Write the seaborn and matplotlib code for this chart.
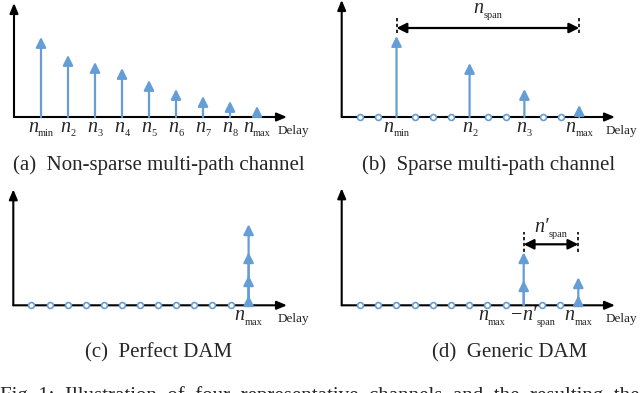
import numpy as np
import pandas as pd
import matplotlib
matplotlib.use("Agg")
import matplotlib.pyplot as plt
import seaborn as sns

# ---------------- data ----------------
# (a) non-sparse channel: every delay tap carries a path
a_pos = [1, 2, 3, 4, 5, 6, 7, 8, 9]
a_heights = [80, 62, 55, 49, 37, 28, 21, 16, 11]
a_subs = ["min", "2", "3", "4", "5", "6", "7", "8", "max"]

# (b) sparse channel
b_dots = [1, 2, 4, 5, 6, 8, 9, 11, 12]
b_pos = [3, 7, 10, 13]
b_heights = [81, 54, 28, 12]
b_subs = ["min", "2", "3", "max"]

# (c) perfect DAM: all paths aligned at n_max
c_dots = [1, 2, 3, 4, 5, 6, 7, 8, 9, 10, 11, 12]
c_pos = [13, 13, 13, 13]
c_heights = [81, 53, 30, 10]

# (d) generic DAM
d_dots = [1, 2, 3, 4, 5, 6, 7, 8, 9, 11, 12]
d_pos = [10, 10, 13, 13]
d_heights = [53, 25, 28, 10]

captions = ["(a)  Non-sparse multi-path channel", "(b)  Sparse multi-path channel",
            "(c)  Perfect DAM", "(d)  Generic DAM"]

# ---------------- style ----------------
sns.set_theme(style="white")
plt.rcParams["font.family"] = ["Liberation Serif", "DejaVu Serif"]

BLUE = "#659ED6"
W, H = 640, 393
fig = plt.figure(figsize=(6.4, 3.93), dpi=100)
renderer = fig.canvas.get_renderer()
PT = 0.72  # points per pixel at 100 dpi


def make_axes(ox, oy, w, h, unit):
    ax = fig.add_axes([ox / W, (H - oy) / H, w / W, h / H])
    ax.set_xlim(0, w / unit)
    ax.set_ylim(0, h)
    ax.axis("off")
    arrow = dict(arrowstyle="-|>,head_length=0.6,head_width=0.25", color="black",
                 lw=1.5, shrinkA=0, shrinkB=0, mutation_scale=10)
    ax.annotate("", xy=(1, 0), xytext=(0, 0), xycoords="axes fraction",
                arrowprops=arrow, zorder=3, annotation_clip=False)
    ax.annotate("", xy=(0, 1), xytext=(0, 0), xycoords="axes fraction",
                arrowprops=arrow, zorder=3, annotation_clip=False)
    ax.annotate("Delay", xy=(1, 0), xycoords="axes fraction", xytext=(-9.5 * PT, -17 * PT),
                textcoords="offset points", ha="left", va="baseline", fontsize=9.5,
                annotation_clip=False)
    return ax


def stems(ax, pos, heights):
    for x, h in zip(pos, heights):
        ax.annotate("", xy=(x, h), xytext=(x, 0), xycoords="data",
                    arrowprops=dict(arrowstyle="-|>,head_length=0.6,head_width=0.3",
                                    color=BLUE, lw=1.6, shrinkA=0, shrinkB=0,
                                    mutation_scale=10),
                    zorder=4, annotation_clip=False)


def dots(ax, xs):
    df = pd.DataFrame({"x": xs, "y": np.zeros(len(xs))})
    sns.scatterplot(data=df, x="x", y="y", ax=ax, marker="o", s=18, color="white",
                    edgecolor=BLUE, linewidth=1.2, zorder=5, clip_on=False, legend=False)
    ax.set_xlabel("")
    ax.set_ylabel("")


def composite(ax, x, y, pieces, dy_px, dx_px=0):
    """pieces: (text, fontsize, style, lowered_px)"""
    widths = []
    for s, size, style, low in pieces:
        t = ax.text(0, 0, s, fontsize=size, style=style)
        widths.append(t.get_window_extent(renderer).width)
        t.remove()
    cur = -sum(widths) / 2 + dx_px
    for (s, size, style, low), w in zip(pieces, widths):
        ax.annotate(s, xy=(x, y), xycoords="data", xytext=(cur * PT, (-dy_px - low) * PT),
                    textcoords="offset points", ha="left", va="baseline", fontsize=size,
                    style=style, annotation_clip=False)
        cur += w


def nlabel(ax, x, sub, y=0, dy=15, dx=0, prime=False):
    main = "n\u2032" if prime else "n"
    composite(ax, x, y, [(main, 14.5, "italic", 0), (sub, 7.5, "normal", 4.5)], dy, dx)


def span(ax, x0, x1, lo, hi, yarr):
    for x in (x0, x1):
        ax.plot([x, x], [lo, hi], color="black", lw=1.2, ls=(0, (2, 1.5)),
                clip_on=False, zorder=3)
    ax.annotate("", xy=(x1, yarr), xytext=(x0, yarr), xycoords="data",
                arrowprops=dict(arrowstyle="<|-|>,head_length=0.6,head_width=0.3",
                                color="black", lw=1.6, shrinkA=0, shrinkB=0,
                                mutation_scale=10),
                zorder=3, annotation_clip=False)


# (a)
ax_a = make_axes(14, 117, 273, 114, 27)
stems(ax_a, a_pos, a_heights)
for x, s in zip(a_pos, a_subs):
    nlabel(ax_a, x, s)

# (b)
ax_b = make_axes(341.7, 117, 273.3, 117, 18.27)
dots(ax_b, b_dots)
stems(ax_b, b_pos, b_heights)
for x, s in zip(b_pos, b_subs):
    nlabel(ax_b, x, s)
span(ax_b, b_pos[0], b_pos[-1], 84, 101, 89)
nlabel(ax_b, (b_pos[0] + b_pos[-1]) / 2, "span", y=104, dy=0)

# (c)
ax_c = make_axes(13.3, 305.3, 273.7, 116, 18.1)
dots(ax_c, c_dots)
stems(ax_c, c_pos, c_heights)
nlabel(ax_c, c_pos[0], "max")

# (d)
ax_d = make_axes(341.7, 305.3, 273.3, 117, 18.2)
dots(ax_d, d_dots)
stems(ax_d, d_pos, d_heights)
composite(ax_d, d_pos[0], 0,
          [("n", 14.5, "italic", 0), ("max", 7.5, "normal", 4.5), (" \u2212", 14.5, "normal", 0),
           ("n\u2032", 14.5, "italic", 0), ("span", 7.5, "normal", 4.5)], 15, -7)
nlabel(ax_d, d_pos[-1], "max")
span(ax_d, d_pos[0], d_pos[-1], 53, 73, 61)
nlabel(ax_d, (d_pos[0] + d_pos[-1]) / 2, "span", y=73, dy=0, prime=True)

# captions
for (cx, cy), txt in zip([(159, 170), (489, 170), (159, 357), (510, 357)], captions):
    fig.text(cx / W, (H - cy) / H, txt, ha="center", va="baseline", fontsize=15)

fig.text(0.0, (H - 401.5) / H,
         "Fig. 1:  Illustration  of  four  representative  channels  and  the  resulting  the  channel  as  well  as  the",
         ha="left", va="baseline", fontsize=15)

fig.savefig("out.png", dpi=100)
